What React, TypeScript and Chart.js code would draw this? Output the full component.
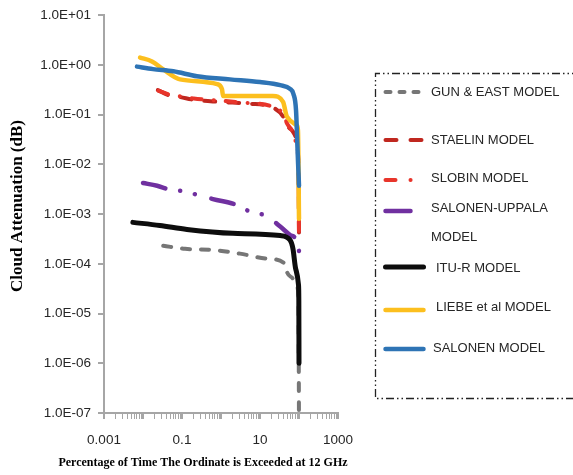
import React, { useEffect, useRef } from 'react';
import { Chart, registerables } from 'chart.js';

Chart.register(...registerables);

// ---------- DATA ----------
const seriesNames = [
  'GUN & EAST MODEL',
  'STAELIN MODEL',
  'SLOBIN MODEL',
  'SALONEN-UPPALA\nMODEL',
  'ITU-R MODEL',
  'LIEBE et al MODEL',
  'SALONEN MODEL',
];

const gunEastPct = [0.033, 0.12, 0.62, 3.07, 16, 44, 49, 70, 89, 97, 100];
const gunEastDb = [2.3e-4, 2.0e-4, 1.9e-4, 1.6e-4, 1.26e-4, 1.0e-4, 6.9e-5, 5.0e-5, 3.5e-5, 1.9e-5, 5e-8];

const staelinPct = [0.024, 0.05, 0.09, 0.19, 0.94, 5.5, 18, 39, 49, 66, 89, 96, 100];
const staelinDb = [0.31, 0.24, 0.225, 0.2, 0.18, 0.165, 0.145, 0.092, 0.06, 0.048, 0.026, 0.01, 4e-4];

const slobinPct = [0.025, 0.05, 0.1, 0.2, 1, 5, 18, 40, 50, 68, 90, 97, 100];
const slobinDb = [0.3, 0.25, 0.23, 0.21, 0.19, 0.17, 0.15, 0.1, 0.065, 0.045, 0.02, 0.008, 4e-4];

const uppalaPct = [0.01, 0.023, 0.049, 0.106, 0.26, 0.62, 2.7, 6.2, 14.3, 33, 59, 90, 100];
const uppalaDb = [4.2e-3, 3.7e-3, 3.1e-3, 2.9e-3, 2.4e-3, 2.0e-3, 1.5e-3, 1.07e-3, 9.3e-4, 5.6e-4, 3.8e-4, 2.8e-4, 1.8e-4];

const ituPct = [0.0055, 0.027, 0.134, 2, 33, 59, 70, 82, 97, 99, 100];
const ituDb = [6.8e-4, 5.9e-4, 4.9e-4, 4.1e-4, 3.7e-4, 3.0e-4, 2.0e-4, 8e-5, 3.8e-5, 1.8e-5, 1e-6];

const liebePct = [0.0084, 0.017, 0.033, 0.089, 0.79, 1.06, 1.13, 21.5, 39, 49, 89, 94, 100];
const liebeDb = [1.4, 1.17, 0.81, 0.51, 0.41, 0.325, 0.236, 0.236, 0.18, 0.091, 0.06, 0.048, 8e-4];

const salonenPct = [0.007, 0.018, 0.06, 0.24, 1.7, 10, 33, 59, 72, 84, 90, 95, 100];
const salonenDb = [0.92, 0.82, 0.74, 0.59, 0.51, 0.45, 0.39, 0.33, 0.26, 0.12, 0.03, 0.01, 3.7e-3];

const seriesPct = [gunEastPct, staelinPct, slobinPct, uppalaPct, ituPct, liebePct, salonenPct];
const seriesDb = [gunEastDb, staelinDb, slobinDb, uppalaDb, ituDb, liebeDb, salonenDb];

const xTickLabels = ['0.001', '0.1', '10', '1000'];
const yTickValues = [1e-7, 1e-6, 1e-5, 1e-4, 1e-3, 1e-2, 1e-1, 1, 10];

const xAxisTitle = 'Percentage of Time The Ordinate is Exceeded at 12 GHz';
const yAxisTitle = 'Cloud Attenuation (dB)';

// ---------- STYLES ----------
const colors = ['#767676', '#C0271F', '#E8352B', '#7030A0', '#0D0D0D', '#FCBF1E', '#2E74B5'];
const widths = [4, 4, 4, 4.5, 5, 4.5, 4.5];
const dashes: number[][] = [[8, 11], [11, 13], [10, 12, 0.1, 12], [23, 15, 0.1, 15, 0.1, 17], [], [], []];
const legendDashes: number[][] = [[5, 9], [11, 14], [10, 15, 0.1, 20], [], [], [], []];
const legendLen = [37, 37, 25.1, 25, 38, 38, 38];
const legendLineY = [92, 140, 180, 211, 267, 310, 349];
const legendTextY = [92, 140, 178, 208, 268, 307, 348];
const legendTextX = [431, 431, 431, 431, 436, 436, 433];

const FONT = '"Liberation Sans", Arial, sans-serif';
const SERIF = '"Liberation Serif", "Times New Roman", serif';

function formatExp(v: number): string {
  const e = Math.round(Math.log10(v));
  const m = v / Math.pow(10, e);
  const sign = e < 0 ? '-' : '+';
  const ae = Math.abs(e);
  return `${m.toFixed(1)}E${sign}${ae < 10 ? '0' + ae : ae}`;
}

function isPow10(v: number): boolean {
  const l = Math.log10(v);
  return Math.abs(l - Math.round(l)) < 1e-6;
}

const xTickValues: number[] = [];
for (let e = -3; e <= 2; e++) {
  for (let m = 1; m <= 9; m++) xTickValues.push(m * Math.pow(10, e));
}
xTickValues.push(1000);

const decorPlugin = {
  id: 'decor',
  afterDraw(chart: any) {
    const ctx = chart.ctx as CanvasRenderingContext2D;
    ctx.save();
    // axis titles
    ctx.fillStyle = '#000';
    ctx.font = `bold 12px ${SERIF}`;
    ctx.textAlign = 'center';
    ctx.textBaseline = 'middle';
    ctx.fillText(xAxisTitle, 203, 463);
    ctx.save();
    ctx.translate(18, 206);
    ctx.rotate(-Math.PI / 2);
    ctx.font = `bold 17px ${SERIF}`;
    ctx.fillText(yAxisTitle, 0, 0);
    ctx.restore();

    // legend box (right side runs off the canvas)
    ctx.strokeStyle = '#222';
    ctx.lineWidth = 1.3;
    ctx.setLineDash([8, 3, 1.5, 3, 1.5, 3]);
    ctx.beginPath();
    ctx.moveTo(620, 73.5);
    ctx.lineTo(375.5, 73.5);
    ctx.lineTo(375.5, 398.5);
    ctx.lineTo(620, 398.5);
    ctx.stroke();

    // legend items
    ctx.lineCap = 'round';
    ctx.textAlign = 'left';
    ctx.font = `13px ${FONT}`;
    seriesNames.forEach((name, i) => {
      ctx.setLineDash(legendDashes[i]);
      ctx.strokeStyle = colors[i];
      ctx.lineWidth = widths[i];
      ctx.beginPath();
      ctx.moveTo(385.5, legendLineY[i]);
      ctx.lineTo(385.5 + legendLen[i], legendLineY[i]);
      ctx.stroke();
      ctx.fillStyle = '#262626';
      name.split('\n').forEach((line, k) => {
        ctx.fillText(line, legendTextX[i], legendTextY[i] + k * 29);
      });
    });
    ctx.restore();
  },
};

export default function App() {
  const ref = useRef<HTMLCanvasElement>(null);
  useEffect(() => {
    if (!ref.current) return;
    const datasets = seriesNames.map((name, i) => ({
      label: name,
      data: seriesPct[i].map((x, k) => ({ x, y: seriesDb[i][k] })),
      borderColor: colors[i],
      backgroundColor: colors[i],
      borderWidth: widths[i],
      borderDash: dashes[i],
      borderCapStyle: 'round' as const,
      borderJoinStyle: 'round' as const,
      pointRadius: 0,
      fill: false,
      cubicInterpolationMode: 'monotone' as const,
      order: seriesNames.length - 1 - i,
    }));
    const chart = new Chart(ref.current, {
      type: 'line',
      data: { datasets },
      options: {
        animation: false,
        responsive: false,
        devicePixelRatio: 1,
        layout: { padding: { left: 0, top: 10, right: 235, bottom: 0 } },
        plugins: { legend: { display: false }, tooltip: { enabled: false } },
        scales: {
          x: {
            type: 'logarithmic',
            min: 0.001,
            max: 1000,
            afterBuildTicks: (s: any) => {
              s.ticks = xTickValues.map((v) => ({ value: v }));
            },
            afterFit: (s: any) => {
              s.height = 62;
            },
            ticks: {
              autoSkip: false,
              maxRotation: 0,
              minRotation: 0,
              padding: 13,
              color: '#262626',
              font: { family: FONT, size: 13.5 },
              callback: (v: any) => {
                const val = Number(v);
                const l = xTickLabels.find((t) => Math.abs(Math.log10(Number(t)) - Math.log10(val)) < 1e-6);
                return l ?? '';
              },
            },
            grid: {
              drawOnChartArea: false,
              drawTicks: true,
              tickLength: 6,
              color: '#A6A6A6',
              lineWidth: (c: any) => (c.tick && isPow10(c.tick.value) ? 2 : 1),
            },
            border: { display: true, color: '#A6A6A6', width: 2 },
          },
          y: {
            type: 'logarithmic',
            min: 1e-7,
            max: 10,
            afterBuildTicks: (s: any) => {
              s.ticks = yTickValues.map((v) => ({ value: v }));
            },
            afterFit: (s: any) => {
              s.width = 104;
            },
            ticks: {
              autoSkip: false,
              padding: 7,
              color: '#262626',
              font: { family: FONT, size: 13.5 },
              callback: (v: any) => formatExp(Number(v)),
            },
            grid: { drawOnChartArea: false, drawTicks: true, tickLength: 6, color: '#A6A6A6', lineWidth: 2 },
            border: { display: true, color: '#A6A6A6', width: 2 },
          },
        },
      },
      plugins: [decorPlugin],
    });
    return () => chart.destroy();
  }, []);
  return (
    <div style={{ position: 'fixed', left: 0, top: 0, width: 573, height: 475, background: '#fff' }}>
      <canvas ref={ref} width={573} height={475} style={{ display: 'block' }} />
    </div>
  );
}
